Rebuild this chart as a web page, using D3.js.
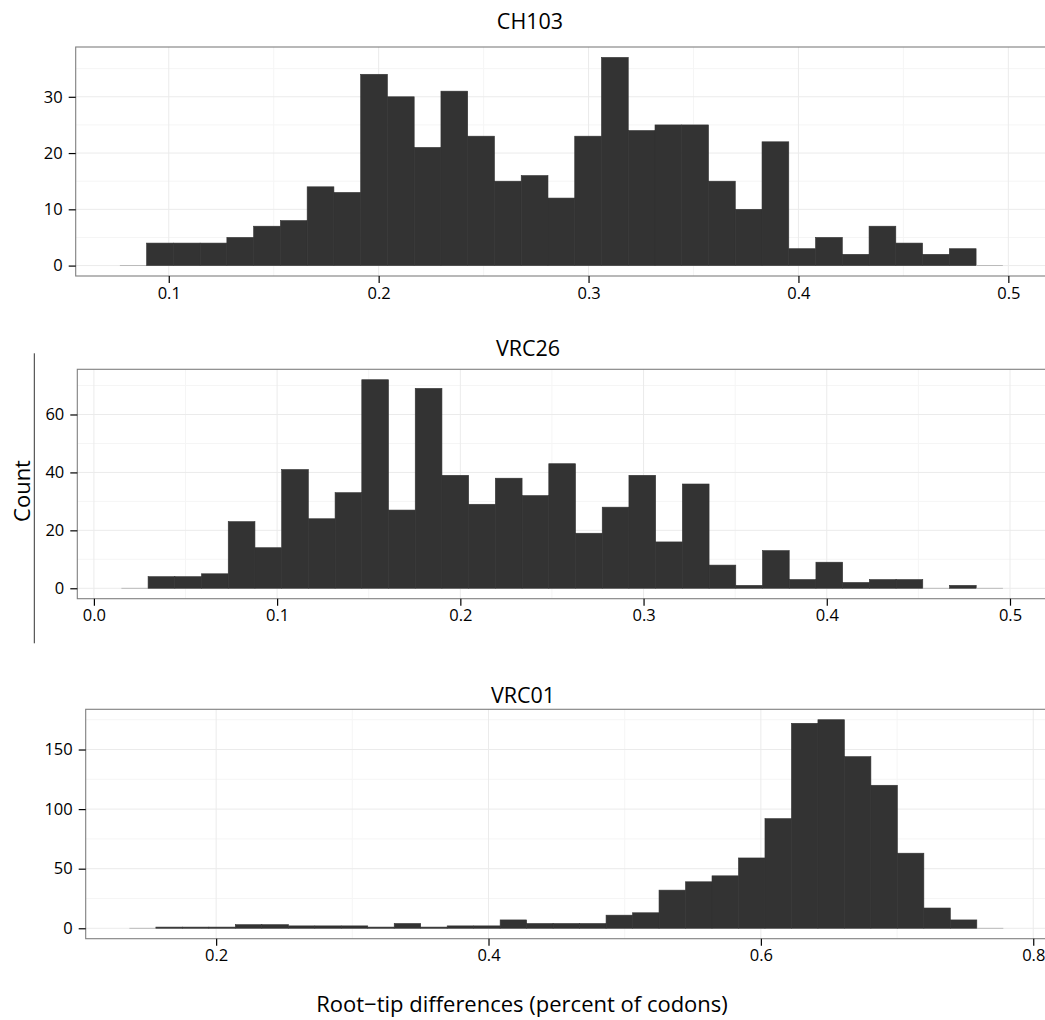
<!DOCTYPE html>
<html><head><meta charset="utf-8">
<script src="https://cdn.jsdelivr.net/npm/d3@7"></script>
<style>
html,body{margin:0;padding:0;background:#fff;}
text{font-family:"Open Sans","Noto Sans",sans-serif;}
</style></head>
<body><svg id="chart" width="1045" height="1020"></svg>
<script>
// ---- data ----
const panelNames = ["CH103", "VRC26", "VRC01"];
const binStarts = [0.0767, 0.0150, 0.1363];
const binWidths = [0.012748, 0.01458, 0.019446];
const countsCH103 = [0,4,4,4,5,7,8,14,13,34,30,21,31,23,15,16,12,23,37,24,25,25,15,10,22,3,5,2,7,4,2,3,0];
const countsVRC26 = [0,4,4,5,23,14,41,24,33,72,27,69,39,29,38,32,43,19,28,39,16,36,8,1,13,3,9,2,3,3,0,1,0];
const countsVRC01 = [0,1,1,1,3,3,2,2,2,1,4,1,2,2,7,4,4,4,11,13,32,39,44,59,92,172,175,144,120,63,17,7,0];
const xTicksCH103 = [0.1,0.2,0.3,0.4,0.5];
const xTicksVRC26 = [0.0,0.1,0.2,0.3,0.4,0.5];
const xTicksVRC01 = [0.2,0.4,0.6,0.8];
const yTicksCH103 = [0,10,20,30];
const yTicksVRC26 = [0,20,40,60];
const yTicksVRC01 = [0,50,100,150];
const xMinorCH103 = [0.15,0.25,0.35,0.45];
const xMinorVRC26 = [0.05,0.15,0.25,0.35,0.45];
const xMinorVRC01 = [0.3,0.5,0.7];
const yMinorCH103 = [5,15,25,35];
const yMinorVRC26 = [10,30,50,70];
const yMinorVRC01 = [25,75,125,175];
const xTitle = "Root\u2212tip differences (percent of codons)";
const yTitle = "Count";

const allCounts = [countsCH103, countsVRC26, countsVRC01];
const allXTicks = [xTicksCH103, xTicksVRC26, xTicksVRC01];
const allYTicks = [yTicksCH103, yTicksVRC26, yTicksVRC01];
const allXMinor = [xMinorCH103, xMinorVRC26, xMinorVRC01];
const allYMinor = [yMinorCH103, yMinorVRC26, yMinorVRC01];

// ---- layout ----
const W = 1045;
const boxes = [
  {left: 75.7, right: 1047, top: 47, bottom: 276, titleX: 530, titleY: 29},
  {left: 77.3, right: 1047, top: 369.3, bottom: 598.7, titleX: 528, titleY: 356},
  {left: 85.7, right: 1047, top: 709.3, bottom: 938.7, titleX: 523, titleY: 703}
];
const svg = d3.select("#chart");
const tickLen = 7;

panelNames.forEach((name, i) => {
  const b = boxes[i];
  const counts = allCounts[i];
  const bins = counts.map((c, k) => ({x0: binStarts[i] + k*binWidths[i], x1: binStarts[i] + (k+1)*binWidths[i], c}));
  const lo = bins[0].x0, hi = bins[bins.length-1].x1;
  const ex = (hi - lo) * 0.05;
  const x = d3.scaleLinear().domain([lo - ex, hi + ex]).range([b.left, b.right]);
  const ymax = d3.max(counts);
  const y = d3.scaleLinear().domain([-ymax*0.05, ymax*1.05]).range([b.bottom, b.top]);

  const g = svg.append("g");
  g.append("rect").attr("x", b.left).attr("y", b.top).attr("width", b.right-b.left).attr("height", b.bottom-b.top).attr("fill", "#fff");
  // minor grid
  g.selectAll(".ymin").data(allYMinor[i]).join("line")
    .attr("x1", b.left).attr("x2", b.right).attr("y1", d=>y(d)).attr("y2", d=>y(d))
    .attr("stroke", "#f5f5f5").attr("stroke-width", 1);
  g.selectAll(".xmin").data(allXMinor[i]).join("line")
    .attr("y1", b.top).attr("y2", b.bottom).attr("x1", d=>x(d)).attr("x2", d=>x(d))
    .attr("stroke", "#f5f5f5").attr("stroke-width", 1);
  // major grid
  g.selectAll(".ymaj").data(allYTicks[i]).join("line")
    .attr("x1", b.left).attr("x2", b.right).attr("y1", d=>y(d)).attr("y2", d=>y(d))
    .attr("stroke", "#ebebeb").attr("stroke-width", 1);
  g.selectAll(".xmaj").data(allXTicks[i]).join("line")
    .attr("y1", b.top).attr("y2", b.bottom).attr("x1", d=>x(d)).attr("x2", d=>x(d))
    .attr("stroke", "#ebebeb").attr("stroke-width", 1);
  // bars
  g.selectAll(".bar").data(bins).join("rect")
    .attr("x", d=>x(d.x0)).attr("width", d=>x(d.x1)-x(d.x0))
    .attr("y", d=> d.c > 0 ? y(d.c) : y(0)-0.4)
    .attr("height", d=> d.c > 0 ? y(0)-y(d.c) : 0.8)
    .attr("fill", d=> d.c > 0 ? "#333333" : "#b0b0b0")
    .attr("stroke", d=> d.c > 0 ? "#333333" : "none")
    .attr("stroke-width", 0.6);
  // border
  g.append("rect").attr("x", b.left).attr("y", b.top).attr("width", b.right-b.left+2).attr("height", b.bottom-b.top)
    .attr("fill", "none").attr("stroke", "#7f7f7f").attr("stroke-width", 1.1);

  // axes
  const xAxis = d3.axisBottom(x).tickValues(allXTicks[i]).tickFormat(d3.format(".1f")).tickSize(tickLen).tickPadding(4);
  const gx = svg.append("g").attr("transform", `translate(0,${b.bottom})`).call(xAxis);
  gx.select(".domain").remove();
  gx.selectAll(".tick line").attr("stroke", "#000").attr("stroke-width", 1.2);
  gx.selectAll(".tick text").attr("font-size", 16.5).attr("fill", "#000").attr("font-family", "'Open Sans',sans-serif");

  const yAxis = d3.axisLeft(y).tickValues(allYTicks[i]).tickFormat(d3.format("d")).tickSize(tickLen).tickPadding(6);
  const gy = svg.append("g").attr("transform", `translate(${b.left},0)`).call(yAxis);
  gy.select(".domain").remove();
  gy.selectAll(".tick line").attr("stroke", "#000").attr("stroke-width", 1.2);
  gy.selectAll(".tick text").attr("font-size", 16.5).attr("fill", "#000").attr("font-family", "'Open Sans',sans-serif");

  // title
  svg.append("text").attr("x", b.titleX).attr("y", b.titleY).attr("text-anchor", "middle")
    .attr("font-size", 21.5).attr("fill", "#000").text(name);
});

// y title with its rule
svg.append("line").attr("x1", 34.3).attr("x2", 34.3).attr("y1", 353.3).attr("y2", 643.3)
  .attr("stroke", "#333").attr("stroke-width", 1);
svg.append("text").attr("transform", "translate(29.5,491) rotate(-90)").attr("text-anchor", "middle")
  .attr("font-size", 22).attr("fill", "#000").text(yTitle);
// x title
svg.append("text").attr("x", 522).attr("y", 1012).attr("text-anchor", "middle")
  .attr("font-size", 22).attr("fill", "#000").text(xTitle);
</script></body></html>
